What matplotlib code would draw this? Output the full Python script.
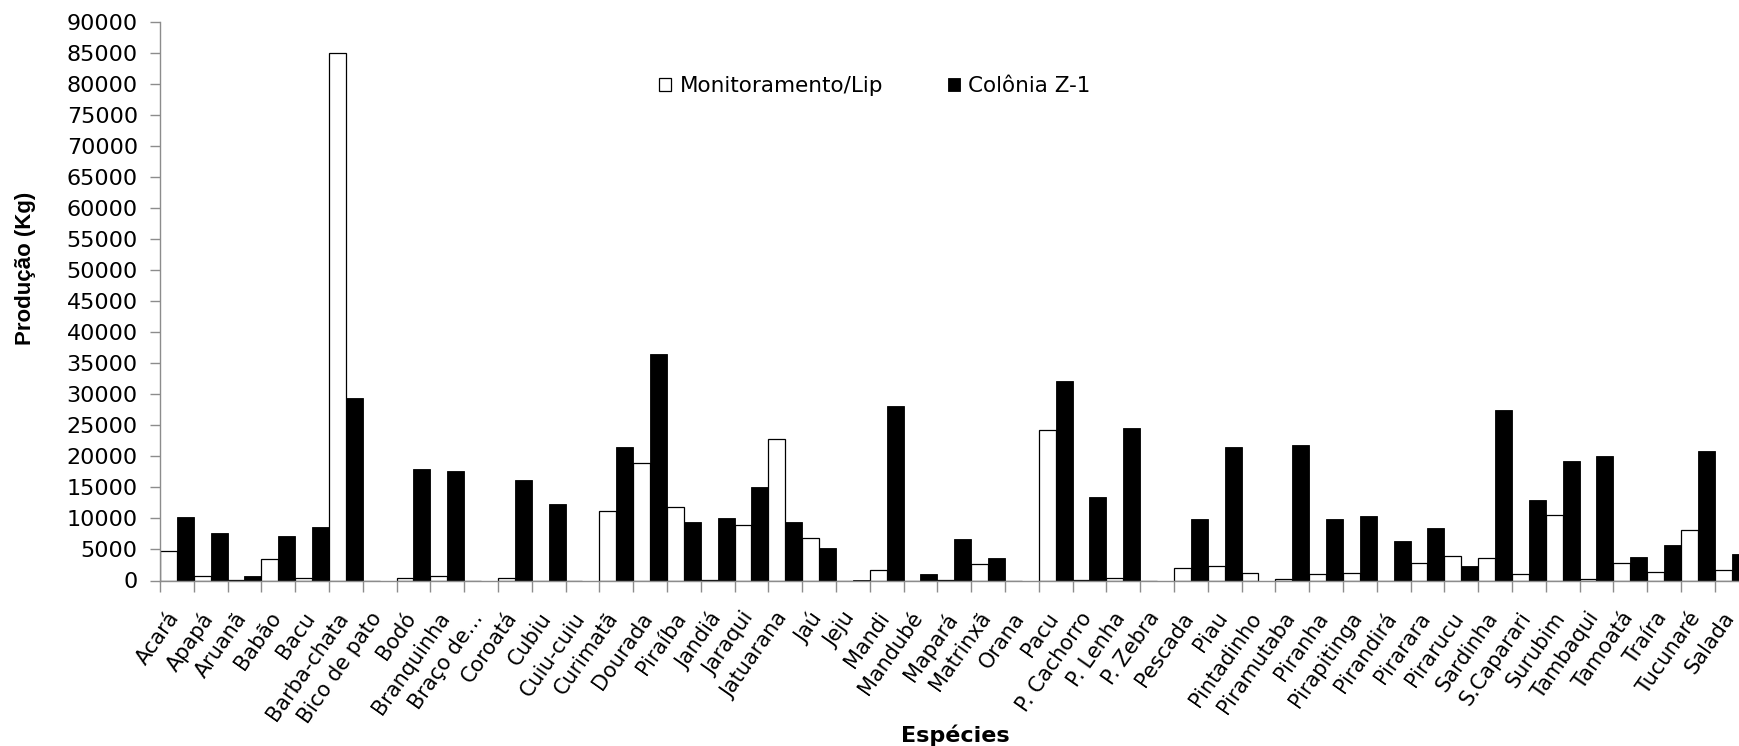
import matplotlib
matplotlib.use("Agg")
import matplotlib.pyplot as plt
import matplotlib.transforms as mtransforms
import numpy as np

especies = ["Acará", "Apapá", "Aruanã", "Babão", "Bacu", "Barba-chata", "Bico de pato",
            "Bodó", "Branquinha", "Braço de…", "Coroatá", "Cubiu", "Cuiu-cuiu", "Curimatã",
            "Dourada", "Piraíba", "Jandiá", "Jaraqui", "Jatuarana", "Jaú", "Jeju", "Mandi",
            "Mandubé", "Mapará", "Matrinxã", "Orana", "Pacu", "P. Cachorro", "P. Lenha",
            "P. Zebra", "Pescada", "Piau", "Pintadinho", "Piramutaba", "Piranha",
            "Pirapitinga", "Pirandirá", "Pirarara", "Pirarucu", "Sardinha", "S.Caparari",
            "Surubim", "Tambaqui", "Tamoatá", "Traíra", "Tucunaré", "Salada"]

monitoramento = [4750, 700, 150, 3500, 330, 85000, 0, 330, 700, 0, 330, 0, 0, 11250,
                 19000, 11900, 120, 8900, 22850, 6800, 0, 1700, 0, 100, 2650, 0, 24300,
                 100, 450, 0, 2050, 2400, 1230, 300, 1050, 1230, 0, 2850, 4000, 3650,
                 1050, 10550, 300, 2850, 1350, 8100, 1650]

colonia = [10200, 7600, 750, 7250, 8700, 29400, 0, 18000, 17600, 0, 16200, 12300, 0,
           21500, 36500, 9500, 10000, 15000, 9500, 5300, 120, 28200, 1050, 6700, 3650, 0,
           32100, 13400, 24600, 0, 9900, 21500, 0, 21850, 9900, 10400, 6350, 8450, 2280,
           27500, 12900, 19300, 20050, 3850, 5800, 20800, 4250]

yticks = list(range(0, 90001, 5000))

W, H = 1740, 746
fig = plt.figure(figsize=(W / 100, H / 100), dpi=100)
fig.patch.set_facecolor("white")

n = len(especies)
step = 33.8
left_px, bottom_px, top_px = 160, 580.5, 22
ax = fig.add_axes([left_px / W, 1 - bottom_px / H, n * step / W, (bottom_px - top_px) / H])

x = np.arange(n)
bw = 0.5
ax.bar(x - bw / 2, monitoramento, width=bw, color="white", edgecolor="black",
       linewidth=0.9, label="Monitoramento/Lip", zorder=2)
ax.bar(x + bw / 2, colonia, width=bw, color="black", edgecolor="black",
       linewidth=0.6, label="Colônia Z-1", zorder=2)

ax.set_xlim(-0.5, n - 0.5)
ax.set_ylim(0, 90000)

gray = "#8c8c8c"
for s in ["top", "right"]:
    ax.spines[s].set_visible(False)
for s in ["left", "bottom"]:
    ax.spines[s].set_color(gray)
    ax.spines[s].set_linewidth(1.0)

ax.set_yticks(yticks)
ax.set_yticklabels([str(v) for v in yticks], family="DejaVu Sans", fontsize=16)
ax.tick_params(axis="y", direction="out", length=7, width=1, color=gray, pad=9,
               labelcolor="black")

ax.set_xticks(x)
ax.set_xticklabels(especies, rotation=55, ha="right", va="top", rotation_mode="anchor",
                   family="DejaVu Sans", fontsize=15)
ax.set_xticks(np.arange(n + 1) - 0.5, minor=True)
ax.tick_params(axis="x", which="major", length=0, pad=20)
ax.tick_params(axis="x", which="minor", direction="out", length=8, width=1, color=gray)
offset = mtransforms.ScaledTranslation(-10 / 100, 0, fig.dpi_scale_trans)
for lbl in ax.get_xticklabels():
    lbl.set_transform(lbl.get_transform() + offset)

fig.text(26 / W, 1 - 268 / H, "Produção (Kg)", rotation=90, ha="center", va="center",
         family="Liberation Sans", fontweight="bold", fontsize=16)
fig.text(955 / W, 1 - 735 / H, "Espécies", ha="center", va="center",
         family="DejaVu Sans", fontweight="bold", fontsize=16)

leg = fig.legend(loc="center left", bbox_to_anchor=(659 / W, 1 - 86 / H), ncol=2,
                 frameon=False, borderpad=0, borderaxespad=0, handlelength=0.56,
                 handleheight=0.56, handletextpad=0.4, columnspacing=3.0,
                 prop={"family": "DejaVu Sans", "size": 15.5})

fig.savefig("out.png", dpi=100)
